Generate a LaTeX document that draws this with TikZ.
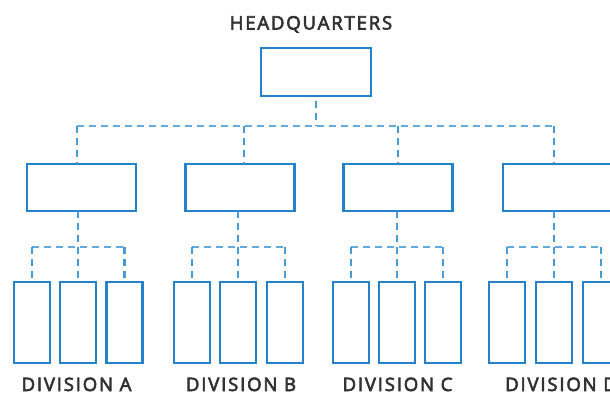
\documentclass[tikz,border=0pt]{standalone}
\usepackage{fontspec}
\usetikzlibrary{calc}
\setmainfont{Open Sans}[LetterSpace=10,FakeBold=3.5]
\definecolor{boxblue}{RGB}{36,130,202}
\definecolor{dashblue}{RGB}{70,155,215}
\definecolor{txtgray}{RGB}{50,50,50}
\begin{document}
\begin{tikzpicture}[x=1pt,y=-1pt,
  box/.style={draw=boxblue,line width=2.2pt,rectangle,inner sep=0pt,outer sep=0pt},
  hqbox/.style={box,minimum width=110pt,minimum height=48pt},
  midbox/.style={box,minimum width=109pt,minimum height=47pt},
  leafbox/.style={box,minimum width=36pt,minimum height=81pt},
  link/.style={draw=dashblue,line width=2.2pt,dash pattern=on 7pt off 5pt},
  hlink/.style={link,line width=2.8pt,draw=dashblue!85},
  lbl/.style={font=\fontsize{18.5}{20}\selectfont,text=txtgray,inner sep=0pt,anchor=base}]
\useasboundingbox (0,0) rectangle (610,392);
\clip (0,0) rectangle (610,392);
% labels
\node[lbl] (hqlbl) at (311,29.5) {HEADQUARTERS};
% boxes
\node[hqbox] (hq) at (316,72) {};
\node[midbox] (mA) at (81.5,187.5) {};
\node[midbox] (mB) at (240,187.5) {};
\node[midbox] (mC) at (398,187.5) {};
\node[midbox] (mD) at (557.5,187.5) {};
\foreach \g/\a/\b/\c in {A/32/78/124.5, B/192/238/285, C/351/397/443, D/507/554/601}{
  \node[leafbox] (\g1) at (\a,322.5) {};
  \node[leafbox] (\g2) at (\b,322.5) {};
  \node[leafbox] (\g3) at (\c,322.5) {};
}
\node[lbl] (lA) at (76.5,391) {DIVISION A};
\node[lbl] (lB) at (241,391) {DIVISION B};
\node[lbl] (lC) at (397.5,391) {DIVISION C};
\node[lbl] (lD) at (561,391) {DIVISION D};
% top bar
\coordinate (bA) at (77,126);
\coordinate (bB) at (244,126);
\coordinate (bC) at (398,126);
\coordinate (bD) at (554,126);
\draw[hlink] (bA) -- (bD);
\draw[link,shorten <=5pt] (hq.south) -- (hq.south |- bA);
\foreach \g in {A,B,C,D}{
  \draw[link] (b\g) -- (b\g |- m\g.north);
}
% sub groups
\foreach \g in {A,B,C,D}{
  \coordinate (s\g) at ($(\g2.north)+(0,-35)$);
  \draw[hlink] (\g1.north |- s\g) -- (\g3.north |- s\g);
  \draw[link,shorten >=4pt] (\g2.north |- m\g.south) -- (\g2.north);
  \draw[link,shorten >=4pt] (\g1.north |- s\g) -- (\g1.north);
  \draw[link,shorten >=4pt] (\g3.north |- s\g) -- (\g3.north);
}
\end{tikzpicture}
\end{document}
